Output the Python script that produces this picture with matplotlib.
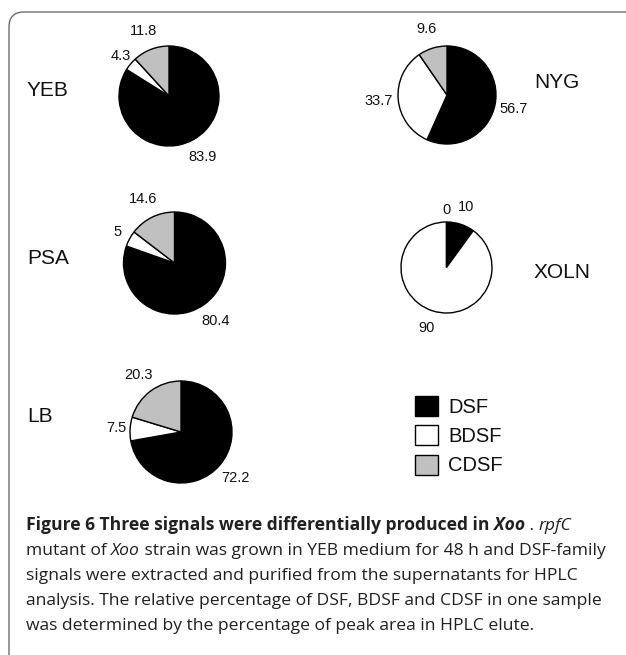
import matplotlib
matplotlib.use("Agg")
import matplotlib.pyplot as plt
import numpy as np
from matplotlib.patches import FancyBboxPatch

plt.rcParams["font.family"] = ["Liberation Sans", "DejaVu Sans"]

# data (percent of peak area)
samples = ["YEB", "NYG", "PSA", "XOLN", "LB"]
signals = ["DSF", "BDSF", "CDSF"]
dsf = [83.9, 56.7, 80.4, 10, 72.2]
bdsf = [4.3, 33.7, 5, 90, 7.5]
cdsf = [11.8, 9.6, 14.6, 0, 20.3]

caption_lines = [
    [("Figure 6 Three signals were differentially produced in ", "bold", "normal"),
     ("Xoo", "bold", "italic"), (" . ", "normal", "normal"), ("rpfC", "normal", "italic")],
    [("mutant of ", "normal", "normal"), ("Xoo", "normal", "italic"),
     (" strain was grown in YEB medium for 48 h and DSF-family", "normal", "normal")],
    [("signals were extracted and purified from the supernatants for HPLC", "normal", "normal")],
    [("analysis. The relative percentage of DSF, BDSF and CDSF in one sample", "normal", "normal")],
    [("was determined by the percentage of peak area in HPLC elute.", "normal", "normal")],
]

# layout in image pixels (x, y from top)
W, H = 626, 655
pie_layout = {
    "YEB": dict(center=(169, 96), r=50, name_xy=(47, 90)),
    "NYG": dict(center=(447, 95), r=49, name_xy=(557, 83)),
    "PSA": dict(center=(174.5, 263), r=51, name_xy=(48, 259)),
    "XOLN": dict(center=(446.5, 267.5), r=45.5, name_xy=(562, 273)),
    "LB": dict(center=(181, 432), r=51, name_xy=(40, 417)),
}
colors = ["black", "white", "#c0c0c0"]
TEXT_COLOR = "#111111"


def main() -> None:
    fig = plt.figure(figsize=(W / 100, H / 100), dpi=100)
    ax = fig.add_axes([0, 0, 1, 1])

    first_wedges = None
    for i, name in enumerate(samples):
        lay = pie_layout[name]
        vals = [dsf[i], bdsf[i], cdsf[i]]
        # y axis is inverted below, so counterclock in data = clockwise on screen
        wedges, _ = ax.pie(vals, colors=colors, center=lay["center"], radius=lay["r"],
                           startangle=-90, counterclock=True,
                           wedgeprops=dict(edgecolor="black", linewidth=1.0))
        if first_wedges is None:
            first_wedges = wedges
        cx, cy = lay["center"]
        for w, v in zip(wedges, vals):
            mid = np.deg2rad((w.theta1 + w.theta2) / 2)
            dist = 1.4 if v >= 8 else 1.26
            ax.text(cx + dist * lay["r"] * np.cos(mid), cy + dist * lay["r"] * np.sin(mid),
                    f"{v:g}", ha="center", va="center", fontsize=10.5, color=TEXT_COLOR)
        ax.text(*lay["name_xy"], name, ha="center", va="center", fontsize=15, color=TEXT_COLOR)

    ax.set_xlim(0, W)
    ax.set_ylim(H, 0)
    ax.set_aspect("auto")
    ax.axis("off")

    leg = ax.legend(first_wedges, signals, loc="upper left", bbox_to_anchor=(415, 396),
                    bbox_transform=ax.transData, frameon=False, fontsize=14.5,
                    handlelength=1.15, handleheight=1.15, handletextpad=0.5,
                    labelspacing=0.42, borderpad=0, borderaxespad=0)
    for t in leg.get_texts():
        t.set_color(TEXT_COLOR)

    border = FancyBboxPatch((9, 12), 640, 660, boxstyle="round,pad=0,rounding_size=15",
                            facecolor="none", edgecolor="#6e6e6e", linewidth=1.0,
                            transform=ax.transData, clip_on=True)
    ax.add_patch(border)

    renderer = fig.canvas.get_renderer()
    cap_size = 12.6
    base_y = 530
    for k, runs in enumerate(caption_lines):
        x = 26
        y = base_y + k * 25
        for text, weight, style in runs:
            t = ax.text(x, y, text, ha="left", va="baseline", fontsize=cap_size,
                        fontweight=weight, fontstyle=style, color="#231f20",
                        family=["Open Sans", "DejaVu Sans"])
            x += t.get_window_extent(renderer).width

    fig.savefig("out.png", dpi=100)


if __name__ == "__main__":
    main()
